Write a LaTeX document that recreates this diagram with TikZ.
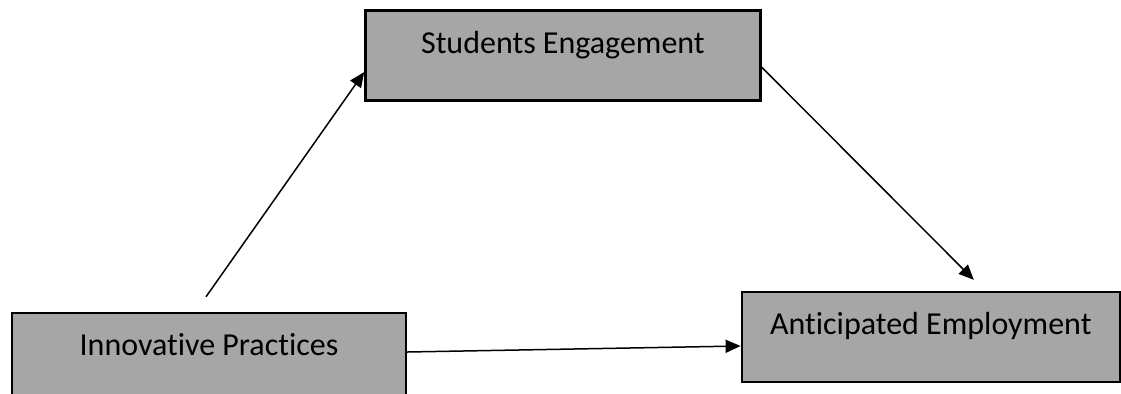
\documentclass[tikz,border=0pt]{standalone}
\usepackage{fontspec}
\setmainfont{Carlito}[Ligatures=NoCommon]
\usetikzlibrary{arrows.meta,calc,positioning}

\begin{document}
\begin{tikzpicture}[
    box/.style={
        rectangle,
        draw=black,
        fill=gray!70,
        line width=1.2pt,
        inner sep=0pt,
        minimum height=45pt,
        text height=12pt,
        text depth=14.5pt,
        align=center,
        font=\fontsize{16}{19}\selectfont
    },
    arrow/.style={-{Triangle[length=7.5pt,width=6.5pt]}, draw=black, line width=0.75pt}
]

    % --- FRAME ---
    \useasboundingbox (0,0) rectangle (560.5pt,-196.5pt);

    % --- NODES ---
    \node[box, minimum width=197pt] (innov) at (104.5pt,-179pt) {Innovative Practices};
    \node[box, minimum width=197.5pt, above right=105pt and -21.5pt of innov] (engage) {Students Engagement};
    \node[box, minimum width=189pt, below right=94.5pt and -10.5pt of engage] (employ) {Anticipated Employment};

    % --- FREE ENDS ---
    \coordinate (innov-top) at ($(innov.north)+(-1.5pt,7.5pt)$);
    \coordinate (employ-top) at ($(employ.north)+(21.5pt,5.5pt)$);

    % --- CONNECTIONS ---
    \draw[arrow] (innov-top) -- ($(engage.west)+(0,-8.25pt)$);
    \draw[arrow] ($(engage.east)+(0,-5.75pt)$) -- (employ-top);
    \draw[arrow] ($(innov.east)+(0,3pt)$) -- ($(employ.west)+(0,-4.5pt)$);

\end{tikzpicture}
\end{document}
